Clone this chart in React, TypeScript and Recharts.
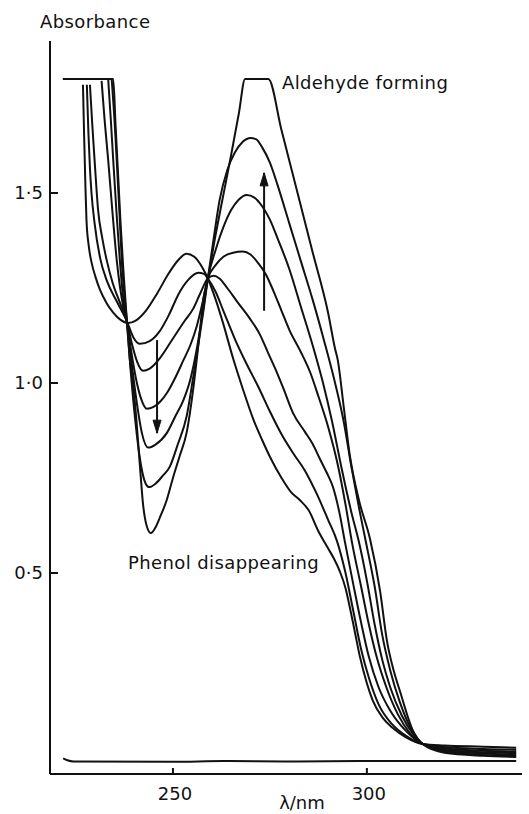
import { LineChart, Line, XAxis, YAxis, ReferenceDot } from 'recharts';

type Pt = [number, number];

// wavelength (nm) / absorbance pairs
const X_TICKS = [250, 300];
const Y_TICKS = [0.5, 1.0, 1.5];

const scan1: Pt[] = [
    [226.8, 1.785], [227.1, 1.65], [227.4, 1.53], [227.7, 1.43], [228.3, 1.36], [229, 1.318], [230, 1.28],
    [231.2, 1.245], [232.8, 1.212], [234.6, 1.185], [236.5, 1.166], [238.4, 1.158], [240.5, 1.165], [243, 1.19],
    [246, 1.237], [249, 1.29], [251.5, 1.325], [253.5, 1.34], [255.5, 1.332], [257.5, 1.305], [259, 1.275],
    [261, 1.22], [263, 1.155], [265.5, 1.065], [268, 0.985], [270.7, 0.905], [273, 0.85], [275, 0.806],
    [278, 0.75], [280.5, 0.712], [282.7, 0.692], [285, 0.665], [287.5, 0.61], [290, 0.565], [291.5, 0.538],
    [293, 0.505], [294.5, 0.46], [295.6, 0.41], [297, 0.34], [298.2, 0.28], [300, 0.21], [301.5, 0.165],
    [304, 0.12], [306.7, 0.092], [310, 0.068], [314.4, 0.05], [320, 0.046], [330, 0.043], [338.5, 0.04],
];

const scan2: Pt[] = [
    [227.8, 1.785], [228.2, 1.66], [228.6, 1.565], [229, 1.5], [229.8, 1.42], [231.2, 1.33], [233, 1.268],
    [235.5, 1.215], [238.1, 1.163], [239.8, 1.12], [241.5, 1.103], [244, 1.11], [246.5, 1.135], [249, 1.18],
    [251.5, 1.235], [254, 1.272], [256.5, 1.29], [258, 1.287], [259, 1.275], [261, 1.24], [263, 1.19],
    [266, 1.115], [269, 1.05], [272, 0.99], [275, 0.925], [278, 0.865], [281, 0.815], [284, 0.77], [287, 0.71],
    [290, 0.64], [292.3, 0.584], [294.5, 0.5], [296.5, 0.4], [298.5, 0.3], [300.5, 0.225], [303, 0.155],
    [306.5, 0.102], [310, 0.072], [314.4, 0.05], [320, 0.042], [330, 0.037], [338.5, 0.035],
];

const scan3: Pt[] = [
    [228.6, 1.785], [229.2, 1.68], [229.9, 1.57], [230.7, 1.455], [231.8, 1.38], [232.9, 1.324], [234.5, 1.262],
    [236.3, 1.212], [238.1, 1.163], [239.5, 1.1], [240.8, 1.055], [242.3, 1.032], [244, 1.038], [246.6, 1.065],
    [248.8, 1.098], [250.9, 1.131], [253, 1.163], [255.2, 1.195], [257, 1.235], [259, 1.275], [260.5, 1.282],
    [262, 1.275], [264, 1.25], [266.5, 1.215], [269.8, 1.17], [272.4, 1.128], [274.5, 1.08], [276.7, 1.03],
    [278.5, 0.985], [281, 0.92], [284, 0.872], [286, 0.84], [287.9, 0.8], [289.6, 0.765], [291.3, 0.725],
    [293, 0.655], [294.3, 0.584], [296.5, 0.47], [298.5, 0.37], [300.5, 0.28], [303, 0.2], [306, 0.138],
    [310, 0.085], [314.4, 0.05], [320, 0.038], [330, 0.032], [338.5, 0.03],
];

const scan4: Pt[] = [
    [231.6, 1.795], [232.4, 1.69], [233.3, 1.587], [234.4, 1.45], [235.5, 1.324], [237.2, 1.2], [238.1, 1.163],
    [239.3, 1.08], [240.5, 1.01], [241.8, 0.958], [243.3, 0.932], [245, 0.937], [246.8, 0.952], [248.4, 0.973],
    [250.5, 1.012], [252.7, 1.06], [254.5, 1.1], [256.1, 1.148], [257.6, 1.21], [259, 1.275], [261, 1.31],
    [263, 1.332], [265.5, 1.343], [268, 1.346], [270, 1.338], [272, 1.315], [274, 1.285], [276, 1.24],
    [278, 1.19], [280, 1.14], [282.7, 1.087], [285.5, 1.025], [287.5, 0.965], [290, 0.885], [292.5, 0.785],
    [294.5, 0.68], [296.1, 0.584], [298.5, 0.465], [300.5, 0.365], [302.5, 0.28], [305, 0.2], [308, 0.128],
    [311, 0.08], [314.4, 0.05], [320, 0.035], [330, 0.028], [338.5, 0.026],
];

const scan5: Pt[] = [
    [233.3, 1.8], [234, 1.69], [234.6, 1.587], [235.5, 1.44], [236.3, 1.324], [237.2, 1.22], [238.1, 1.163],
    [239.5, 1.04], [240.8, 0.94], [242, 0.868], [243.6, 0.83], [245.5, 0.838], [248.4, 0.868], [250.5, 0.91],
    [252.7, 0.955], [254.5, 1.01], [256.1, 1.087], [257.6, 1.18], [259, 1.275], [261, 1.35], [263, 1.41],
    [265, 1.455], [267, 1.483], [269, 1.495], [271, 1.488], [273, 1.465], [275, 1.43], [277, 1.38], [280, 1.3],
    [283, 1.2], [286, 1.1], [288.7, 1.0], [291, 0.9], [293.5, 0.775], [296, 0.66], [297.9, 0.584], [300, 0.48],
    [302, 0.365], [304, 0.27], [306, 0.2], [309, 0.125], [312, 0.075], [314.4, 0.05], [320, 0.033],
    [330, 0.025], [338.5, 0.022],
];

const scan6: Pt[] = [
    [234.2, 1.8], [235, 1.68], [235.5, 1.587], [236.2, 1.45], [236.8, 1.324], [237.5, 1.23], [238.1, 1.166],
    [239.2, 1.02], [240.3, 0.9], [241.5, 0.8], [242.6, 0.745], [243.8, 0.726], [245.5, 0.735], [247.3, 0.755],
    [249.2, 0.78], [251.3, 0.84], [253.5, 0.911], [255.3, 1.02], [257, 1.131], [258, 1.2], [259, 1.275],
    [260.5, 1.38], [262, 1.48], [264, 1.56], [266, 1.607], [268, 1.635], [270, 1.645], [271.5, 1.641],
    [273, 1.62], [275, 1.58], [277, 1.52], [280, 1.42], [283, 1.32], [286, 1.22], [289, 1.11], [291.8, 1.0],
    [294, 0.9], [296, 0.78], [298, 0.67], [299.7, 0.584], [302, 0.465], [304, 0.335], [306, 0.245],
    [308.5, 0.16], [311.5, 0.088], [314.4, 0.05], [320, 0.03], [330, 0.021], [338.5, 0.019],
];

const scan7: Pt[] = [
    [221.6, 1.8], [234.6, 1.8], [235.2, 1.68], [235.8, 1.56], [236.5, 1.42], [237.2, 1.3], [238.1, 1.166],
    [239, 1.05], [239.8, 0.99], [240.6, 0.9], [241.5, 0.78], [242.3, 0.68], [243.2, 0.625], [244.3, 0.605],
    [245.5, 0.62], [246.8, 0.65], [248.4, 0.692], [250, 0.75], [251.8, 0.81], [253.5, 0.868], [255.3, 0.99],
    [256.9, 1.132], [257.8, 1.218], [259, 1.275], [261, 1.39], [263, 1.495], [265, 1.6], [267, 1.71],
    [268.6, 1.8], [274.6, 1.8], [278, 1.665], [282, 1.505], [286, 1.345], [290, 1.185], [291.8, 1.09],
    [292.5, 1.06], [294, 0.94], [295.6, 0.81], [298, 0.69], [300.8, 0.59], [303.4, 0.453], [305.2, 0.32],
    [307, 0.24], [308.5, 0.19], [311.9, 0.085], [314.4, 0.05], [320, 0.027], [330, 0.019], [338.5, 0.016],
];

// solvent blank
const blank: Pt[] = [
    [221.7, 0.012], [222.8, 0.007], [224.3, 0.004], [250, 0.003], [263, 0.005], [280, 0.004], [300, 0.005],
    [320, 0.005], [338.5, 0.005],
];

// trend arrows (start -> tip)
const aldehydeArrow: Pt[] = [[273.5, 1.19], [273.5, 1.553]];
const phenolArrow: Pt[] = [[245.9, 1.113], [245.9, 0.868]];

const SCANS = [scan1, scan2, scan3, scan4, scan5, scan6, scan7, blank];

const FONT = '"DejaVu Sans", sans-serif';
const INK = '#111';

const rows = (pts: Pt[], key: string) => pts.map(([x, y]) => ({ x, [key]: y }));
const fmt = (v: number) => v.toFixed(1).replace('.', '\u00b7');

function XTick({ x, y, payload }: any) {
    return (
        <g>
            <line x1={x} y1={y} x2={x} y2={y - 6} stroke={INK} strokeWidth={2} />
            <text x={x + 2} y={y + 26} textAnchor="middle" fontFamily={FONT} fontSize={18} fill={INK}>
                {payload.value}
            </text>
        </g>
    );
}

function YTick({ x, y, payload }: any) {
    return (
        <g>
            <line x1={x} y1={y} x2={x + 8} y2={y} stroke={INK} strokeWidth={2} />
            <text x={x - 7} y={y} dy="0.36em" textAnchor="end" fontFamily={FONT} fontSize={18} fill={INK}>
                {fmt(payload.value)}
            </text>
        </g>
    );
}

function ArrowHead({ cx, cy, index, up }: any) {
    if (index !== 1) return <g key={`e${index}`} />;
    const base = up ? cy + 13 : cy - 13;
    return (
        <path
            key={`h${index}`}
            d={`M${cx},${cy} L${cx - 4},${base} L${cx + 4},${base} Z`}
            fill={INK}
            stroke={INK}
            strokeWidth={1}
        />
    );
}

function Note({ viewBox, text }: any) {
    return (
        <text x={viewBox.x} y={viewBox.y} fontFamily={FONT} fontSize={18} letterSpacing={0.4} fill={INK}>
            {text}
        </text>
    );
}

export default function App() {
    return (
        <div style={{ position: 'absolute', left: 0, top: 0, background: '#fff' }}>
            <LineChart width={529} height={814} margin={{ top: 41, right: 7, bottom: 0, left: 0 }}>
                <XAxis
                    type="number"
                    dataKey="x"
                    domain={[218.3, 340]}
                    ticks={X_TICKS}
                    interval={0}
                    allowDataOverflow
                    height={40}
                    tickSize={0}
                    tickMargin={0}
                    tickLine={false}
                    tick={<XTick />}
                    axisLine={{ stroke: INK, strokeWidth: 2 }}
                    label={{
                        content: ({ viewBox }: any) => (
                            <text x={viewBox.x + 252} y={viewBox.y + 35} textAnchor="middle"
                                fontFamily={FONT} fontSize={18} fill={INK}>
                                λ/nm
                            </text>
                        ),
                    }}
                />
                <YAxis
                    type="number"
                    domain={[-0.029, 1.9]}
                    ticks={Y_TICKS}
                    interval={0}
                    allowDataOverflow
                    width={50}
                    tickSize={0}
                    tickMargin={0}
                    tickLine={false}
                    tick={<YTick />}
                    axisLine={{ stroke: INK, strokeWidth: 2 }}
                    label={{
                        content: ({ viewBox }: any) => (
                            <text x={viewBox.x + 40} y={viewBox.y - 13}
                                fontFamily={FONT} fontSize={18} letterSpacing={0.4} fill={INK}>
                                Absorbance
                            </text>
                        ),
                    }}
                />
                {SCANS.map((pts, i) => (
                    <Line
                        key={`s${i}`}
                        data={rows(pts, `s${i}`)}
                        dataKey={`s${i}`}
                        type="monotone"
                        stroke={INK}
                        strokeWidth={2}
                        dot={false}
                        activeDot={false}
                        isAnimationActive={false}
                    />
                ))}
                <Line
                    data={rows(aldehydeArrow, 'up')}
                    dataKey="up"
                    type="linear"
                    stroke={INK}
                    strokeWidth={2}
                    dot={(p: any) => <ArrowHead {...p} up />}
                    activeDot={false}
                    isAnimationActive={false}
                />
                <Line
                    data={rows(phenolArrow, 'down')}
                    dataKey="down"
                    type="linear"
                    stroke={INK}
                    strokeWidth={2}
                    dot={(p: any) => <ArrowHead {...p} up={false} />}
                    activeDot={false}
                    isAnimationActive={false}
                />
                <ReferenceDot x={278.1} y={1.774} r={0} fill="none" stroke="none"
                    label={<Note text="Aldehyde forming" />} />
                <ReferenceDot x={238.4} y={0.511} r={0} fill="none" stroke="none"
                    label={<Note text="Phenol disappearing" />} />
            </LineChart>
        </div>
    );
}
